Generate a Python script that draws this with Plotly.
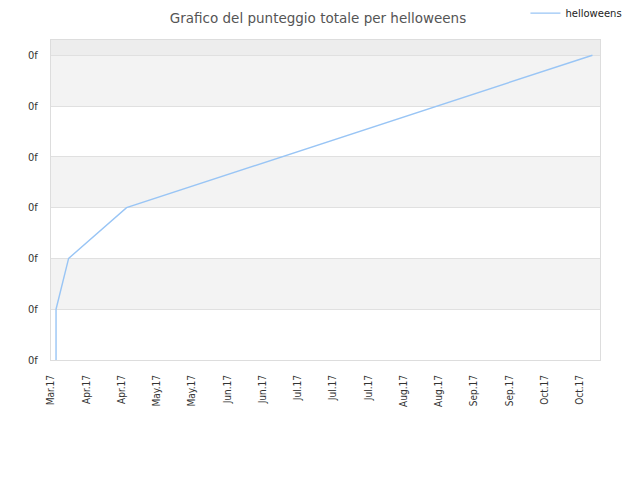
import plotly.graph_objects as go

# punteggio totale di helloweens nel tempo
dates = ["2017-03-27", "2017-03-27", "2017-04-01", "2017-04-24", "2017-10-26"]
scores = [0, 1, 2, 3, 6]

tick_dates = ["2017-03-25", "2017-04-08", "2017-04-22", "2017-05-06", "2017-05-20",
              "2017-06-03", "2017-06-17", "2017-07-01", "2017-07-15", "2017-07-29",
              "2017-08-12", "2017-08-26", "2017-09-09", "2017-09-23", "2017-10-07",
              "2017-10-21"]
tick_labels = ["Mar.17", "Apr.17", "Apr.17", "May.17", "May.17", "Jun.17", "Jun.17",
               "Jul.17", "Jul.17", "Jul.17", "Aug.17", "Aug.17", "Sep.17", "Sep.17",
               "Oct.17", "Oct.17"]
y_ticks = [0, 1, 2, 3, 4, 5, 6]
y_top = 6.3

narrow = "Liberation Sans Narrow, DejaVu Sans Condensed, DejaVu Sans"

fig = go.Figure()
fig.add_trace(go.Scatter(x=dates, y=scores, mode="lines", name="helloweens",
                         line=dict(color="#99c5f5", width=1.4)))

# bande alternate
for i in range(len(y_ticks) - 1):
    if i % 2 == 1:
        fig.add_shape(type="rect", xref="paper", yref="y", x0=0, x1=1,
                      y0=y_ticks[i], y1=y_ticks[i + 1], fillcolor="#f3f3f3",
                      line_width=0, layer="below")
fig.add_shape(type="rect", xref="paper", yref="y", x0=0, x1=1,
              y0=y_ticks[-1], y1=y_top, fillcolor="#ededed", line_width=0, layer="below")

# la pagina ha 8px di margine, quindi la figura è un po' più piccola
fig.update_layout(
    width=632, height=472,
    margin=dict(l=43, r=40, t=32, b=120, autoexpand=False),
    paper_bgcolor="white", plot_bgcolor="white",
    font=dict(family="DejaVu Sans", size=9, color="#333"),
    title=dict(text="Grafico del punteggio totale per helloweens", x=0.4905, xanchor="center",
               y=0.979, yanchor="middle", font=dict(size=13.5, color="#555")),
    showlegend=True,
    legend=dict(orientation="h", x=1.05, xanchor="right", y=1.084, yanchor="middle",
                font=dict(size=10, color="#222"), itemwidth=30),
    xaxis=dict(type="date", range=["2017-03-25", "2017-10-29"], tickvals=tick_dates,
               ticktext=tick_labels, tickangle=-90, showgrid=False, zeroline=False,
               showline=True, linecolor="#dddddd", mirror=True, ticks="outside",
               ticklen=10, tickcolor="rgba(0,0,0,0)",
               tickfont=dict(family=narrow, size=10, color="#333"), automargin=False),
    yaxis=dict(range=[0, y_top], tickvals=y_ticks, ticktext=["0f"] * len(y_ticks),
               showgrid=True, gridcolor="#e0e0e0", zeroline=False, showline=True,
               linecolor="#dddddd", mirror=True, ticks="outside", ticklen=10,
               tickcolor="rgba(0,0,0,0)",
               tickfont=dict(family=narrow, size=11, color="#333"), automargin=False),
)

fig.write_html("out.html")
